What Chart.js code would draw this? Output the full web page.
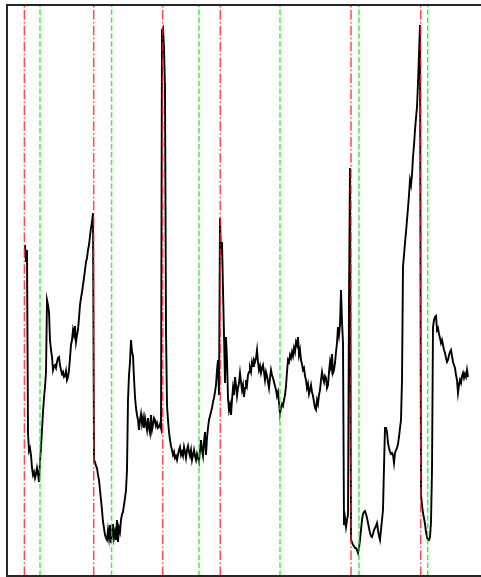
<!DOCTYPE html>
<html>
<head>
<meta charset="utf-8">
<script src="https://cdn.jsdelivr.net/npm/chart.js@4/dist/chart.umd.min.js"></script>
<style>
  html, body { margin: 0; padding: 0; background: #ffffff; overflow: hidden; }
  #wrap { position: relative; width: 481px; height: 577px; }
</style>
</head>
<body>
<div id="wrap"><canvas id="chart"></canvas></div>
<script>
// Signal level per time step (t = 0, 1, 2, ...)
const signal = [
  33.1, 31.4, 32.6, 14.3, 12.5, 12.8, 12.1, 10.8, 10.1, 10.4,
  9.8, 10.2, 10.8, 10.2, 9.4, 11.4, 12.9, 14.6, 16.4, 17.8,
  18.9, 20.4, 27.6, 27.1, 26.4, 23.6, 22.6, 21.9, 20.6, 21.0,
  21.1, 20.8, 21.4, 21.8, 21.9, 21.1, 20.6, 20.2, 20.4, 19.9,
  20.0, 20.5, 19.6, 19.9, 20.6, 21.8, 23.1, 23.6, 24.6, 24.1,
  25.0, 23.4, 24.1, 24.6, 25.8, 27.1, 27.8, 28.4, 29.1, 29.8,
  30.6, 31.4, 31.8, 32.6, 33.1, 34.0, 34.8, 35.4, 36.3, 11.6,
  11.4, 11.0, 10.8, 10.1, 9.6, 8.6, 7.6, 6.6, 5.4, 4.8,
  4.1, 3.8, 3.6, 4.6, 3.8, 5.1, 3.3, 4.1, 5.2, 3.8,
  4.4, 3.6, 5.6, 3.4, 4.8, 4.4, 5.6, 6.2, 6.4, 7.1,
  7.8, 8.6, 10.6, 17.6, 20.1, 21.4, 23.6, 22.4, 22.0, 19.8,
  17.9, 16.8, 16.1, 15.6, 14.6, 15.6, 16.2, 15.2, 15.8, 14.8,
  15.8, 15.2, 14.6, 15.8, 14.8, 14.3, 16.1, 14.6, 15.1, 15.8,
  15.6, 15.0, 15.3, 14.8, 14.9, 15.2, 14.8, 54.6, 54.8, 52.8,
  48.8, 24.6, 17.1, 15.6, 14.4, 13.6, 13.0, 12.6, 12.1, 12.4,
  11.8, 12.0, 11.6, 12.1, 12.6, 12.9, 12.1, 12.4, 12.0, 12.9,
  12.4, 11.8, 12.6, 13.0, 12.4, 12.0, 12.6, 11.6, 12.1, 12.6,
  12.0, 11.6, 12.2, 11.8, 11.4, 12.6, 13.6, 12.6, 12.0, 13.4,
  14.4, 12.1, 13.8, 14.8, 15.6, 16.0, 16.4, 16.8, 17.4, 17.8,
  18.4, 19.1, 20.6, 21.6, 18.1, 35.8, 32.1, 33.4, 28.6, 24.1,
  19.3, 23.9, 21.6, 17.8, 16.6, 17.1, 16.1, 17.6, 18.8, 18.1,
  19.9, 19.1, 18.0, 18.8, 19.3, 20.3, 19.4, 18.6, 19.1, 17.9,
  18.8, 19.6, 19.1, 20.1, 20.4, 20.8, 20.4, 21.4, 21.0, 21.6,
  21.4, 21.8, 22.6, 21.4, 20.6, 21.0, 20.3, 20.8, 21.1, 20.4,
  19.6, 20.4, 20.0, 19.4, 18.8, 19.8, 20.6, 20.1, 19.8, 19.4,
  19.0, 18.6, 18.0, 18.4, 17.4, 16.2, 16.8, 17.2, 17.0, 17.6,
  18.1, 19.0, 20.4, 21.6, 21.4, 22.1, 21.8, 22.4, 22.0, 22.8,
  22.4, 23.4, 23.1, 23.9, 22.1, 22.6, 21.6, 21.2, 20.6, 20.8,
  20.0, 19.6, 18.8, 19.2, 18.2, 18.6, 19.1, 18.4, 18.0, 17.4,
  16.8, 16.6, 17.6, 17.2, 18.1, 18.6, 19.6, 20.4, 19.8, 19.4,
  20.0, 19.8, 18.8, 19.1, 20.4, 21.4, 20.8, 22.2, 20.3, 20.6,
  21.3, 22.4, 23.3, 24.9, 24.1, 25.1, 28.6, 25.4, 23.3, 5.1,
  5.8, 4.9, 5.6, 6.1, 27.6, 40.8, 3.6, 3.4, 3.1, 3.0,
  2.8, 2.8, 2.6, 2.3, 2.8, 3.6, 4.6, 5.6, 6.2, 6.4,
  6.5, 6.2, 5.8, 5.3, 4.8, 4.3, 4.0, 3.9, 4.2, 4.6,
  4.8, 5.0, 5.3, 4.6, 4.0, 3.6, 4.6, 5.6, 6.6, 10.9,
  14.8, 14.8, 14.4, 13.3, 12.8, 12.4, 12.2, 12.3, 12.1, 11.3,
  12.3, 12.6, 12.8, 13.2, 13.9, 14.8, 15.6, 19.6, 30.9, 32.1,
  33.3, 34.4, 35.6, 36.8, 38.1, 39.6, 39.1, 40.1, 41.9, 43.1,
  44.6, 45.8, 46.9, 49.3, 52.1, 55.1, 8.1, 7.1, 6.3, 5.8,
  5.2, 4.4, 3.9, 3.6, 3.6, 3.9, 5.4, 10.6, 24.9, 25.6,
  25.9, 26.0, 24.6, 24.8, 24.2, 23.8, 23.3, 23.6, 23.1, 22.6,
  22.3, 21.8, 21.4, 21.6, 22.1, 22.4, 22.6, 22.0, 21.4, 21.1,
  20.8, 20.1, 19.6, 18.3, 19.1, 19.6, 19.3, 20.0, 20.3, 19.8,
  20.2, 19.9, 20.6, 19.9
];

// Event markers (time steps)
const redEvents = [-0.6, 68.7, 137.7, 195.3, 326, 395.7];
const greenEvents = [15, 86.6, 174, 255, 334, 402.7];

// Axis limits
const xMin = -18, xMax = 456;
const yMin = 0, yMax = 57.1;

const signalPoints = signal.map((v, i) => ({ x: i, y: v }));

function markerLine(t, color, dash) {
  return {
    type: 'line',
    data: [{ x: t, y: yMin }, { x: t, y: yMax }],
    borderColor: color,
    borderWidth: 1.5,
    borderDash: dash,
    pointRadius: 0,
    tension: 0,
    order: 0
  };
}

const datasets = [
  {
    type: 'line',
    data: signalPoints,
    borderColor: '#000000',
    borderWidth: 1.9,
    pointRadius: 0,
    tension: 0,
    order: 1
  },
  ...redEvents.map(t => markerLine(t, 'rgba(255,30,30,0.8)', [9.6, 2.4, 1.5, 2.4])),
  ...greenEvents.map(t => markerLine(t, 'rgba(20,235,20,0.8)', [5.5, 2.4]))
];

// Axes frame: left, top and bottom spines
const framePlugin = {
  id: 'frame',
  afterDatasetsDraw(chart) {
    const { ctx, chartArea: a } = chart;
    ctx.save();
    ctx.strokeStyle = '#262626';
    ctx.lineWidth = 2;
    ctx.beginPath();
    ctx.moveTo(a.right + 2, a.top);
    ctx.lineTo(a.left, a.top);
    ctx.lineTo(a.left, a.bottom);
    ctx.lineTo(a.right + 2, a.bottom);
    ctx.stroke();
    ctx.restore();
  }
};

new Chart(document.getElementById('chart'), {
  type: 'line',
  data: { datasets },
  options: {
    responsive: true,
    maintainAspectRatio: false,
    animation: false,
    events: [],
    layout: { padding: { left: 7, top: 5, right: 0, bottom: 1 } },
    plugins: { legend: { display: false }, tooltip: { enabled: false } },
    scales: {
      x: { type: 'linear', min: xMin, max: xMax, display: false },
      y: { type: 'linear', min: yMin, max: yMax, display: false }
    }
  },
  plugins: [framePlugin]
});
</script>
</body>
</html>
